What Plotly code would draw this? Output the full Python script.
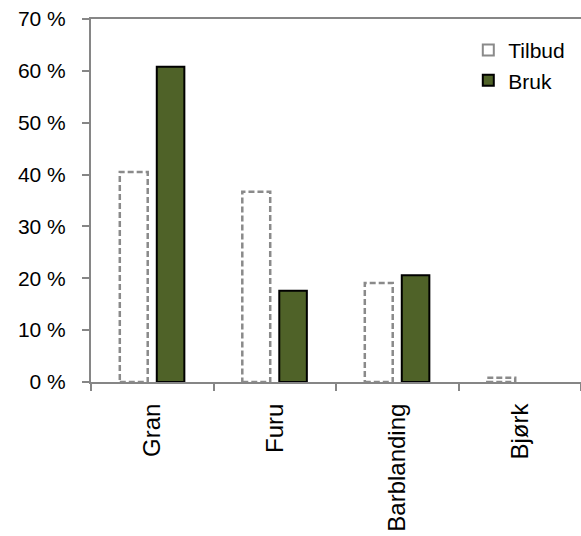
import plotly.graph_objects as go

categories = ["Gran", "Furu", "Barblanding", "Bjørk"]
tilbud = [40.5, 36.7, 19.1, 0.8]
bruk = [60.8, 17.6, 20.6, 0.0]
y_ticks = [0, 10, 20, 30, 40, 50, 60, 70]
y_tick_labels = [f"{v} %" for v in y_ticks]

AXIS_GRAY = "#868686"
DASH_GRAY = "#8a8a8a"
OLIVE = "#4f6228"
FONT = "Liberation Sans, Arial, sans-serif"

TILBUD_OFFSET, TILBUD_WIDTH = -0.265, 0.228
BRUK_OFFSET, BRUK_WIDTH = 0.037, 0.225

fig = go.Figure()

# Tilbud: white bars, outlined with dashed shapes below
fig.add_trace(go.Bar(
    name="Tilbud", x=categories, y=tilbud,
    width=TILBUD_WIDTH, offset=TILBUD_OFFSET,
    marker=dict(color="white", line=dict(width=0)),
    showlegend=False,
))
fig.add_trace(go.Bar(
    name="Bruk", x=categories, y=bruk,
    width=BRUK_WIDTH, offset=BRUK_OFFSET,
    marker=dict(color=OLIVE,
                line=dict(color="black",
                          width=[2 if v > 0 else 0 for v in bruk])),
    showlegend=False,
))

for i, v in enumerate(tilbud):
    fig.add_shape(
        type="rect", xref="x", yref="y",
        x0=i + TILBUD_OFFSET, x1=i + TILBUD_OFFSET + TILBUD_WIDTH,
        y0=0, y1=v,
        line=dict(color=DASH_GRAY, width=2.5, dash="6px,3px"),
        fillcolor="rgba(0,0,0,0)", layer="above",
    )

# legend entries
fig.add_trace(go.Scatter(
    name="Tilbud", x=[None], y=[None], mode="markers",
    marker=dict(symbol="square", size=11, color="white",
                line=dict(color=DASH_GRAY, width=2)),
))
fig.add_trace(go.Scatter(
    name="Bruk", x=[None], y=[None], mode="markers",
    marker=dict(symbol="square", size=11, color=OLIVE,
                line=dict(color="black", width=2)),
))

fig.update_layout(
    width=581, height=536,
    margin=dict(l=91, r=0, t=19, b=154),
    paper_bgcolor="white", plot_bgcolor="white",
    font=dict(family=FONT, size=22, color="black"),
    barmode="overlay",
    showlegend=True,
    legend=dict(x=0.77, y=0.97, xanchor="left", yanchor="top",
                font=dict(size=21), bgcolor="rgba(0,0,0,0)",
                itemwidth=30, tracegroupgap=2),
    xaxis=dict(
        type="category", tickangle=-90, tickson="boundaries",
        ticks="outside", ticklen=7, tickcolor=AXIS_GRAY, tickwidth=1.5,
        showline=True, linecolor=AXIS_GRAY, linewidth=2, mirror=True,
        showgrid=False, range=[-0.5, 3.5],
        tickfont=dict(size=24), ticklabelstandoff=10,
    ),
    yaxis=dict(
        range=[0, 70], tickvals=y_ticks, ticktext=y_tick_labels,
        ticks="outside", ticklen=7, tickcolor=AXIS_GRAY, tickwidth=1.5,
        showline=True, linecolor=AXIS_GRAY, linewidth=2,
        showgrid=False, zeroline=False,
        tickfont=dict(size=21), ticklabelstandoff=12,
    ),
)

fig.write_html("out.html")
